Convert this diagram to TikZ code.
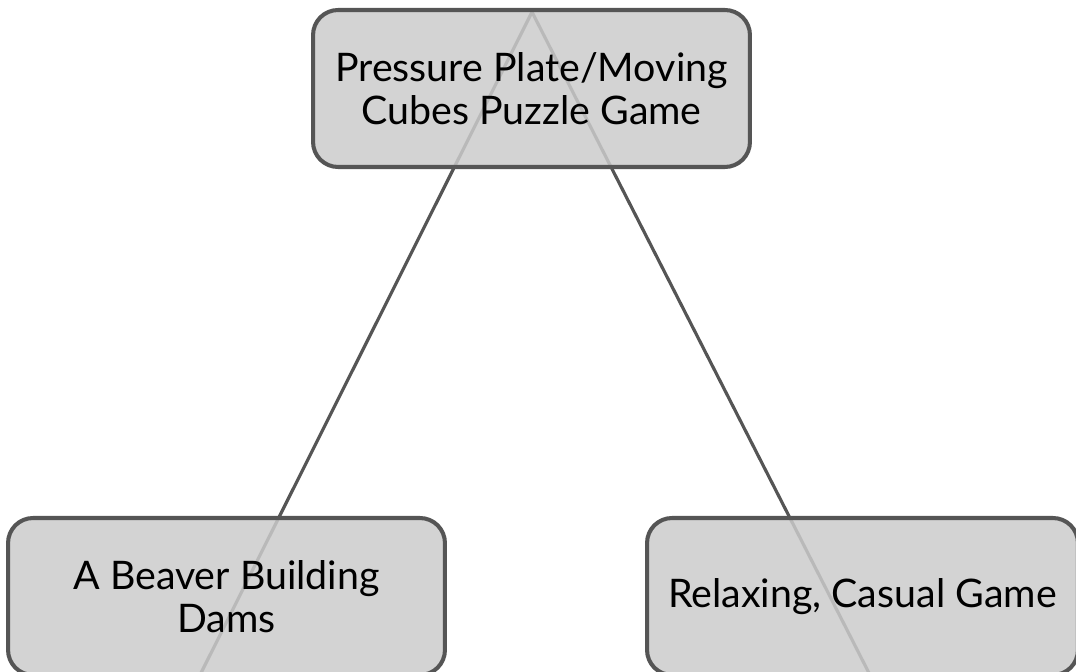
\documentclass[tikz,border=0pt]{standalone}
\usepackage{fontspec}
\setmainfont{Lato}
\usetikzlibrary{positioning}
\definecolor{boxfill}{RGB}{203,203,203}
\definecolor{boxline}{RGB}{85,85,85}

\begin{document}
\begin{tikzpicture}[x=0.02cm,y=-0.02cm,
    topic/.style={draw=boxline,line width=2.3pt,fill=boxfill,fill opacity=0.85,
      text opacity=1,rounded corners=0.5cm,align=center,font=\fontsize{22.4}{24.4}\selectfont,
      minimum height=3.14cm,inner sep=0pt},
    link/.style={draw=boxline,line width=1.8pt}]
  \useasboundingbox (0,0) rectangle (1076,672);
  \clip (0,0) rectangle (1076,672);

  % ends of the two links
  \coordinate (apex) at (532,12);
  \coordinate (leftend) at (200,675);
  \coordinate (rightend) at (870,675);
  \draw [link] (apex) -- (leftend);
  \draw [link] (apex) -- (rightend);

  % topics
  \node [topic,minimum width=8.74cm] at (531.5,88.5) (puzzle) {Pressure Plate/Moving\\Cubes Puzzle Game};
  \node [topic,minimum width=8.74cm] at (226.5,596.5) (beaver) {A Beaver Building\\Dams};
  \node [topic,minimum width=8.62cm] at (862.5,596.5) (casual) {Relaxing, Casual Game};

\end{tikzpicture}
\end{document}
